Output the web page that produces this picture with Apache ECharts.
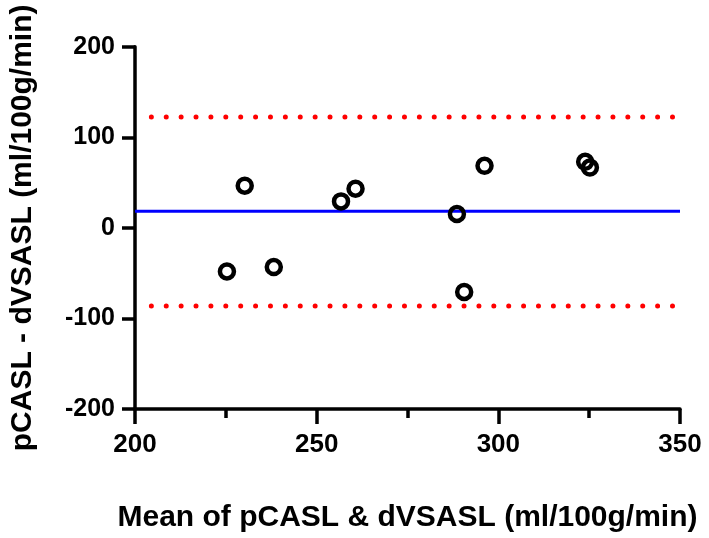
<!DOCTYPE html>
<html><head><meta charset="utf-8">
<script src="https://cdn.jsdelivr.net/npm/echarts@6/dist/echarts.min.js"></script>
<style>html,body{margin:0;padding:0;background:#fff}#c{width:709px;height:538px}</style>
</head><body><div id="c"></div>
<script>
const meanValues = [225.3, 230.2, 238.2, 256.7, 260.7, 288.6, 290.6, 296.2, 323.9, 325.2];
const diffValues = [-48.1, 46.5, -43.3, 29.2, 43.2, 15.3, -70.8, 68.5, 72.9, 66.6];
const biasValue = 18.3;
const upperLoA = 122.4;
const lowerLoA = -86.2;
const loaXRange = [204.5, 348.4];
const xTicks = [200, 250, 300, 350];
const yTicks = [-200, -100, 0, 100, 200];

const font = '"Liberation Sans", Arial, sans-serif';
const chart = echarts.init(document.getElementById('c'), null, {renderer: 'canvas'});
chart.setOption({
  animation: false,
  backgroundColor: '#fff',
  grid: {left: 133.5, right: 29, top: 46.7, bottom: 127.5},
  xAxis: {
    type: 'value', min: xTicks[0], max: xTicks[xTicks.length-1], interval: 50,
    name: 'Mean of pCASL & dVSASL (ml/100g/min)', nameLocation: 'middle', nameGap: 94,
    nameTextStyle: {fontFamily: font, fontWeight: 'bold', fontSize: 30, color: '#000'},
    axisLine: {show: true, onZero: false, lineStyle: {color: '#000', width: 3.5}},
    axisTick: {show: true, length: 15, lineStyle: {color: '#000', width: 3.5}},
    minorTick: {show: true, splitNumber: 2, length: 9, lineStyle: {color: '#000', width: 3.5}},
    axisLabel: {fontFamily: font, fontWeight: 'bold', fontSize: 26, color: '#000', margin: 23},
    splitLine: {show: false}
  },
  yAxis: {
    type: 'value', min: yTicks[0], max: yTicks[yTicks.length-1], interval: 100,
    name: 'pCASL - dVSASL (ml/100g/min)', nameLocation: 'middle', nameGap: 97,
    nameTextStyle: {fontFamily: font, fontWeight: 'bold', fontSize: 30, color: '#000'},
    axisLine: {show: true, onZero: false, lineStyle: {color: '#000', width: 3.5}},
    axisTick: {show: true, length: 13, lineStyle: {color: '#000', width: 3.5}},
    axisLabel: {fontFamily: font, fontWeight: 'bold', fontSize: 25, color: '#000', margin: 20},
    splitLine: {show: false}
  },
  series: [
    {
      type: 'line', data: [[xTicks[0], biasValue], [xTicks[xTicks.length-1], biasValue]],
      symbol: 'none', lineStyle: {color: '#0000ff', width: 3.2}, z: 2
    },
    {
      type: 'line', data: [[loaXRange[0], upperLoA], [loaXRange[1], upperLoA]],
      symbol: 'none', lineStyle: {color: '#ff0000', width: 5, type: [0, 14.89], cap: 'round'}, z: 2
    },
    {
      type: 'line', data: [[loaXRange[0], lowerLoA], [loaXRange[1], lowerLoA]],
      symbol: 'none', lineStyle: {color: '#ff0000', width: 5, type: [0, 14.89], cap: 'round'}, z: 2
    },
    {
      type: 'scatter', data: meanValues.map((m, i) => [m, diffValues[i]]),
      symbol: 'circle', symbolSize: 14,
      itemStyle: {color: 'rgba(255,255,255,0)', borderColor: '#000', borderWidth: 4.5, opacity: 1}, z: 3
    }
  ]
});
</script></body></html>
